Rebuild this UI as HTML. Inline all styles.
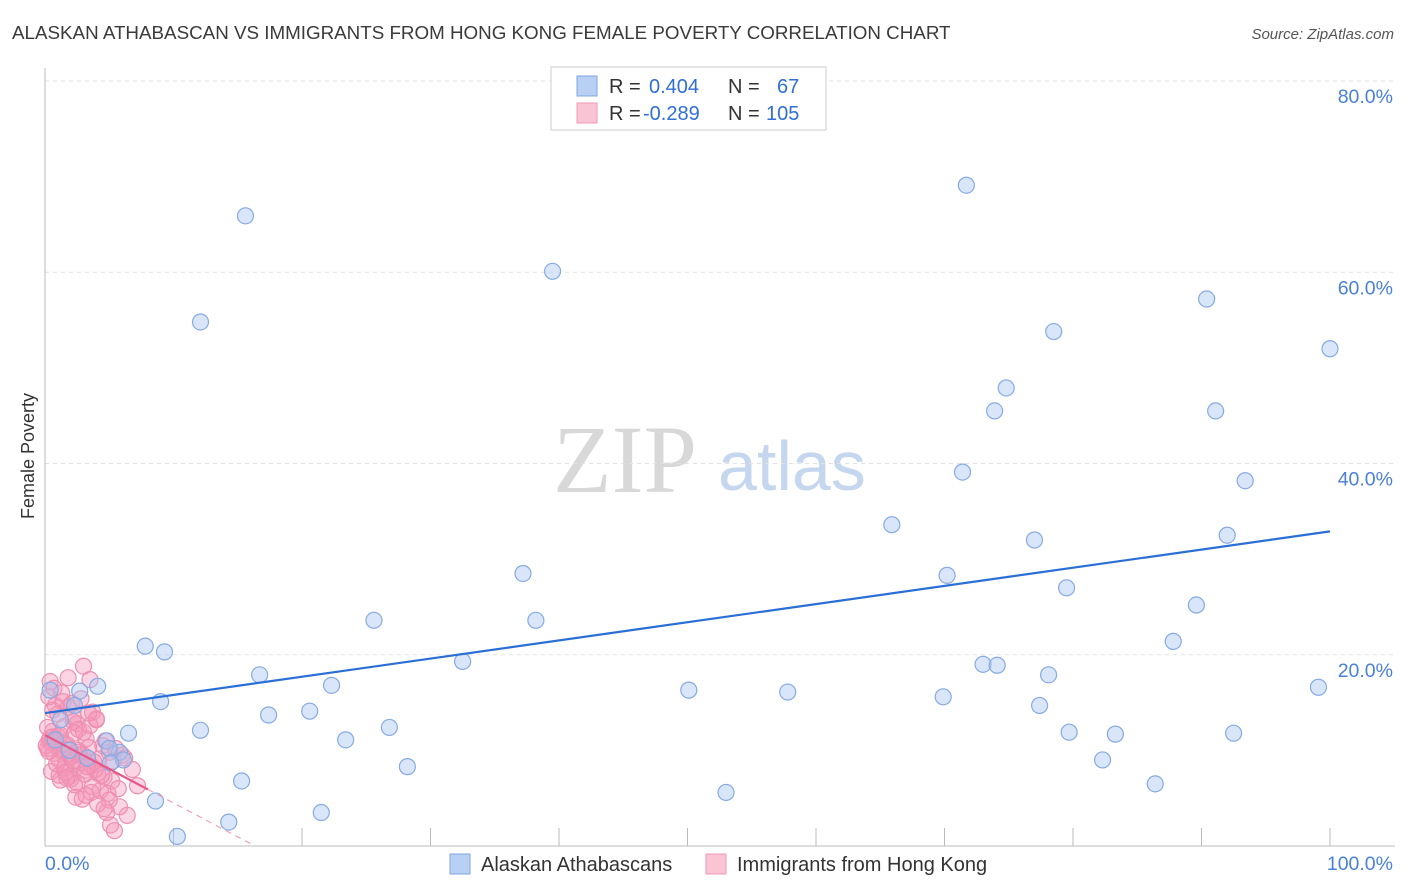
<!DOCTYPE html>
<html><head><meta charset="utf-8">
<style>
body{margin:0;background:#fff;font-family:"Liberation Sans",sans-serif;}
svg{display:block}
</style></head>
<body>
<svg id="chart" width="1406" height="892" xmlns="http://www.w3.org/2000/svg">
<text x="12" y="39" font-size="18.8" fill="#3a3a3a">ALASKAN ATHABASCAN VS IMMIGRANTS FROM HONG KONG FEMALE POVERTY CORRELATION CHART</text>
<text x="1394" y="39" font-size="15" fill="#555" font-style="italic" text-anchor="end">Source: ZipAtlas.com</text>
<text transform="translate(34,456) rotate(-90)" font-size="18" fill="#333" text-anchor="middle">Female Poverty</text>
<g>
<text x="553" y="492" font-family="Liberation Serif,serif" font-size="96" fill="#d8d8d8">ZIP</text>
<text x="718" y="490" font-size="70" fill="#c5d6ef">atlas</text>
</g>
<g id="grid"></g>
<g id="axes"></g>
<g id="pts"></g>
<g id="trend"></g>
<g>
<rect x="551" y="67" width="275" height="63" fill="#fff" stroke="#ccc"/>
<rect x="577" y="76" width="20" height="20" fill="#b8d0f4" stroke="#7fa6e0"/>
<rect x="577" y="103" width="20" height="20" fill="#f9c4d4" stroke="#f09ab6"/>
<g font-size="20">
<text x="609" y="93" fill="#333">R =</text>
<text x="649" y="93" fill="#2f6fd6">0.404</text>
<text x="728" y="93" fill="#333">N =</text>
<text x="777" y="93" fill="#2f6fd6">67</text>
</g>
<g font-size="20">
<text x="609" y="120" fill="#333">R =</text>
<text x="643" y="120" fill="#2f6fd6">-0.289</text>
<text x="728" y="120" fill="#333">N =</text>
<text x="766" y="120" fill="#2f6fd6">105</text>
</g>
</g>
<g>
<rect x="450" y="854" width="20" height="20" fill="#b8d0f4" stroke="#7fa6e0"/>
<text x="481" y="871" font-size="20" fill="#333">Alaskan Athabascans</text>
<rect x="706" y="854" width="20" height="20" fill="#f9c4d4" stroke="#f09ab6"/>
<text x="737" y="871" font-size="20" fill="#333">Immigrants from Hong Kong</text>
</g>
</svg>
<script>
const blueX=[15.6,12.1,39.5,71.7,90.4,78.5,100,74.8,73.9,91.1,71.4,93.4,65.9,77.0,92.0,37.2,70.2,79.5,38.2,25.6,89.6,87.8,7.8,9.3,32.5,73.0,74.1,16.7,78.1,22.3,4.1,2.7,50.1,57.8,99.1,9.0,69.9,77.4,17.4,20.6,12.1,26.8,6.5,79.7,83.3,92.5,23.4,4.8,5.8,5.0,6.1,5.1,28.2,82.3,15.3,86.4,53.0,8.6,21.5,14.3,10.3,2.3,0.4,1.2,3.3,0.8,1.9];
const blueY=[65.9,54.8,60.1,69.1,57.2,53.8,52.0,47.9,45.5,45.5,39.1,38.2,33.6,32.0,32.5,28.5,28.3,27.0,23.6,23.6,25.2,21.4,20.9,20.3,19.3,19.0,18.9,17.9,17.9,16.8,16.7,16.2,16.3,16.1,16.6,15.1,15.6,14.7,13.7,14.1,12.1,12.4,11.8,11.9,11.7,11.8,11.1,11.0,9.8,10.2,9.0,8.7,8.3,9.0,6.8,6.5,5.6,4.7,3.5,2.5,1.0,14.7,16.3,13.2,9.2,11.1,10.0];
const pinkX=[3.0,1.8,3.5,0.4,0.8,3.7,4.0,2.2,1.5,0.6,0.3,1.0,2.5,3.2,4.5,5.0,5.5,6.0,6.8,7.2,0.5,0.9,1.3,1.7,2.1,2.6,2.9,3.3,3.8,4.2,0.2,0.7,1.1,1.6,2.0,2.4,2.8,3.1,3.6,4.1,4.6,5.2,0.4,0.8,1.2,1.9,2.3,2.7,3.4,3.9,4.4,4.9,5.7,6.4,0.3,0.6,1.0,1.4,1.8,2.2,2.6,3.0,3.5,4.0,4.7,5.3,6.2,0.5,1.1,1.5,2.0,2.5,3.1,3.7,4.3,5.0,5.8,1.2,1.9,2.4,2.9,3.6,4.8,5.1,0.9,1.6,2.3,3.2,4.1,0.7,1.3,2.1,2.8,3.4,0.2,0.6,1.4,2.6,3.3,4.6,5.4,0.1,0.3,1.7,2.2];
const pinkY=[18.8,17.6,17.4,17.2,14.7,14.0,13.2,13.0,12.5,12.0,11.0,11.5,12.8,11.2,10.5,9.8,10.2,9.5,8.0,6.3,10.8,10.4,9.9,10.6,9.4,10.0,9.6,9.2,8.8,9.1,10.2,9.7,9.0,8.5,9.3,8.2,8.7,7.9,8.4,7.6,7.2,6.8,11.3,10.9,11.6,10.1,11.8,9.5,10.3,8.0,7.4,5.5,6.0,3.2,15.6,14.2,13.8,15.1,14.5,13.5,12.2,11.9,12.6,13.3,11.0,8.9,9.2,7.8,7.4,8.1,7.0,6.6,7.5,6.2,5.8,4.8,4.1,6.9,7.3,5.1,4.9,5.6,3.5,2.2,8.6,7.7,6.4,5.3,4.4,16.5,16.0,14.9,15.4,13.9,12.4,11.4,10.7,9.8,8.3,3.9,1.6,10.5,9.9,7.1,8.9];
const blueTrend=[13.9,32.9];
const pinkTrend=[11.6,-0.71];
const yTicks=["20.0%","40.0%","60.0%","80.0%"];
const yTickVals=[20,40,60,80];
const X0=45,X1=1330,Y0=846,PY=9.5625;
const sx=v=>X0+(X1-X0)*v/100;
const sy=v=>Y0-v*PY;
const NS="http://www.w3.org/2000/svg";
function mk(tag,parent,attrs){const e=document.createElementNS(NS,tag);for(const k in attrs)e.setAttribute(k,attrs[k]);parent.appendChild(e);return e;}
const grid=document.getElementById('grid'),axes=document.getElementById('axes'),pts=document.getElementById('pts'),tr=document.getElementById('trend');
yTickVals.forEach((v,i)=>{
 const l=mk('line',grid,{x1:X0,x2:1395,y1:sy(v),y2:sy(v),stroke:'#e2e2e2','stroke-dasharray':'4,4'});
 
 
 const t=mk('text',grid,{x:1393,y:sy(v)+22,'font-size':19.5,fill:'#4a80d8','text-anchor':'end'});
 t.textContent=yTicks[i];
 
 
});
let a=mk('line',axes,{x1:X0,x2:X0,y1:68,y2:Y0,stroke:'#bbb'});


a=mk('line',axes,{x1:X0,x2:1395,y1:Y0,y2:Y0,stroke:'#bbb'});


for(let i=1;i<=10;i++){const t=mk('line',axes,{x1:sx(i*10),x2:sx(i*10),y1:828,y2:Y0,stroke:'#bbb'});
 
 }
let xt=mk('text',axes,{x:45,y:870,'font-size':19.5,fill:'#4a80d8'});xt.textContent='0.0%';


xt=mk('text',axes,{x:1393,y:870,'font-size':19.5,fill:'#4a80d8','text-anchor':'end'});xt.textContent='100.0%';


pinkX.forEach((x,i)=>{const c=mk('circle',pts,{cx:sx(x),cy:sy(pinkY[i]),r:8,fill:'rgba(246,150,185,0.4)',stroke:'#ee8fb0','stroke-width':1.2});
 
 });
blueX.forEach((x,i)=>{const c=mk('circle',pts,{cx:sx(x),cy:sy(blueY[i]),r:8,fill:'rgba(170,198,240,0.45)',stroke:'#86aae3','stroke-width':1.2});
 
 });
let l=mk('line',tr,{x1:sx(0),y1:sy(blueTrend[0]),x2:sx(100),y2:sy(blueTrend[1]),stroke:'#2a6fd6','stroke-width':2.2});


const pEnd=-pinkTrend[0]/pinkTrend[1];
l=mk('line',tr,{x1:sx(0),y1:sy(pinkTrend[0]),x2:sx(8),y2:sy(pinkTrend[0]+8*pinkTrend[1]),stroke:'#e8578a','stroke-width':2.2});


l=mk('line',tr,{x1:sx(8),y1:sy(pinkTrend[0]+8*pinkTrend[1]),x2:sx(pEnd),y2:sy(0),stroke:'#f0a0bb','stroke-width':1.2,'stroke-dasharray':'6,5'});


</script>
</body></html>
